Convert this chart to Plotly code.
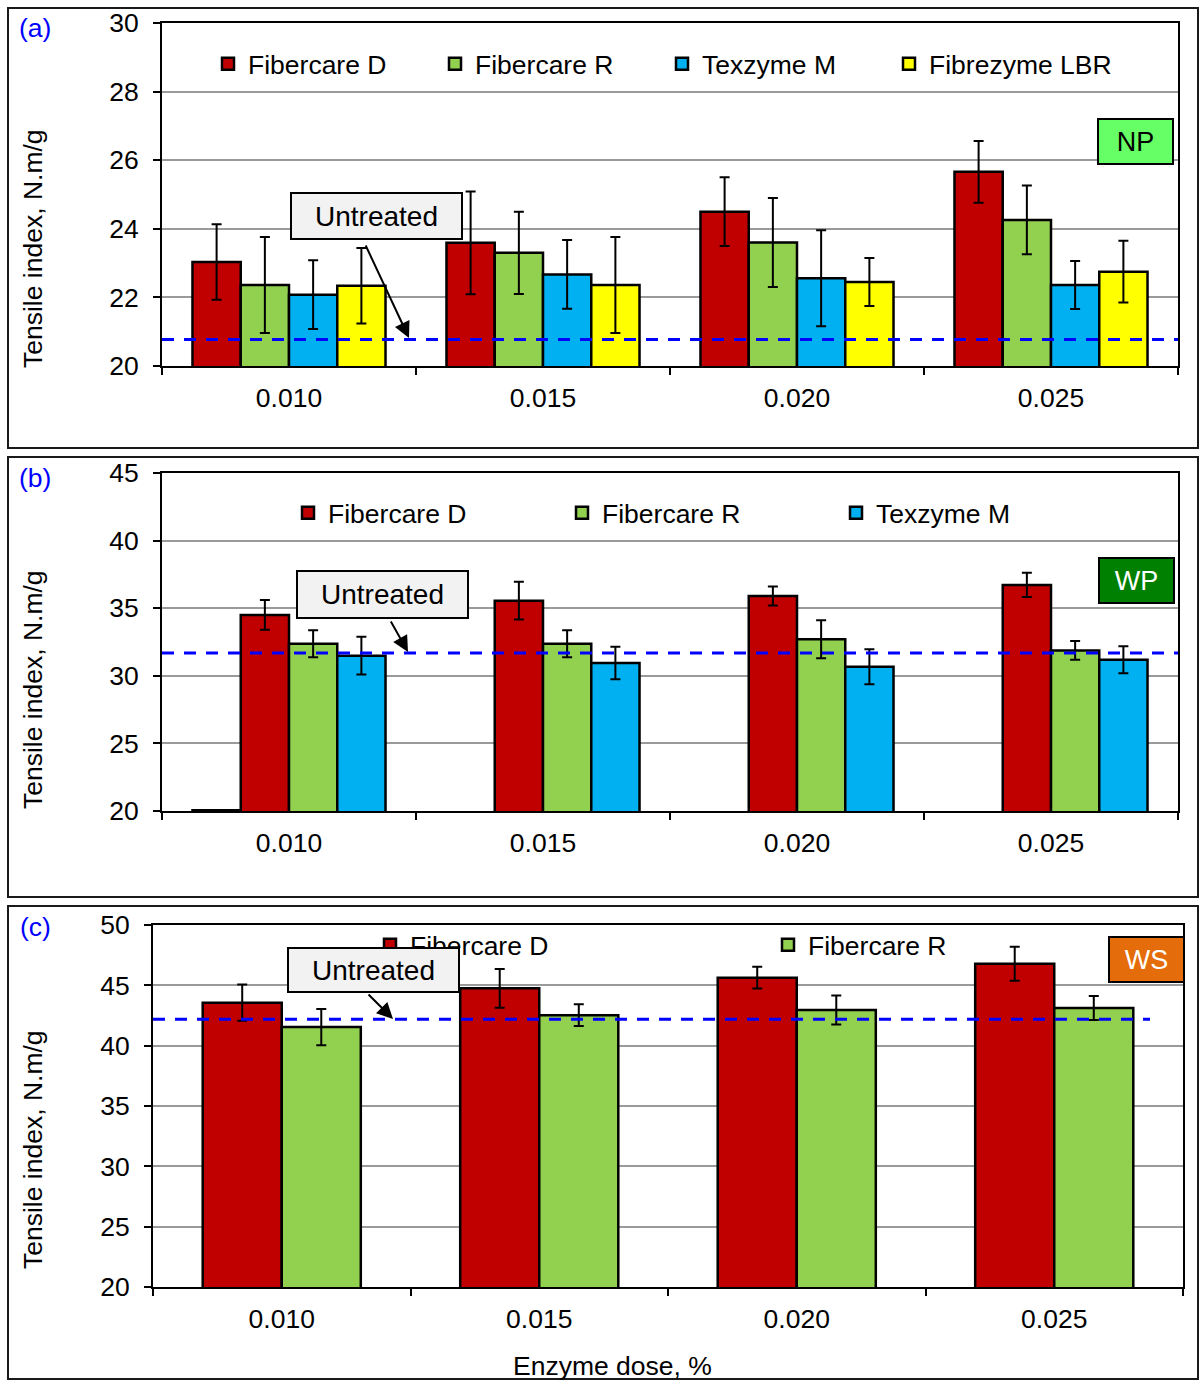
import plotly.graph_objects as go

W, H = 1201, 1380
FONT = "Liberation Sans, Arial, sans-serif"
FS = 26.5

doses = ["0.010", "0.015", "0.020", "0.025"]
series_names = ["Fibercare D", "Fibercare R", "Texzyme M", "Fibrezyme LBR"]
colors = ["#C00000", "#92D050", "#00B0F0", "#FFFF00"]

# Panel (a) NP
np_fd = [23.03, 23.59, 24.50, 25.66]
np_fd_err = [1.10, 1.50, 1.00, 0.90]
np_fr = [22.36, 23.30, 23.60, 24.26]
np_fr_err = [1.40, 1.20, 1.30, 1.00]
np_tm = [22.08, 22.67, 22.56, 22.36]
np_tm_err = [1.00, 1.00, 1.40, 0.70]
np_lbr = [22.34, 22.36, 22.45, 22.75]
np_lbr_err = [1.10, 1.40, 0.70, 0.90]
np_untreated = 20.77

# Panel (b) WP
wp_lbr = [20.05, None, None, None]
wp_fd = [34.50, 35.56, 35.90, 36.72]
wp_fd_err = [1.10, 1.40, 0.70, 0.90]
wp_fr = [32.37, 32.37, 32.70, 31.88]
wp_fr_err = [1.00, 1.00, 1.40, 0.70]
wp_tm = [31.49, 30.95, 30.67, 31.19]
wp_tm_err = [1.40, 1.20, 1.30, 1.00]
wp_untreated = 31.69

# Panel (c) WS
ws_fd = [43.56, 44.75, 45.63, 46.79]
ws_fd_err = [1.50, 1.60, 0.90, 1.40]
ws_fr = [41.54, 42.53, 42.95, 43.12]
ws_fr_err = [1.50, 0.90, 1.20, 1.00]
ws_untreated = 42.18


def px(x):
    return x / W


def py(y):
    return 1 - y / H


fig = go.Figure()


def add_bar(name, vals, errs, color, xa, ya, legend, showlegend=True, **extra):
    kw = dict(extra)
    if errs is not None:
        kw["error_y"] = dict(type="data", array=errs, color="black", thickness=2, width=5)
    fig.add_trace(go.Bar(
        x=doses, y=vals, name=name, marker=dict(color=color, line=dict(color="black", width=2.5)),
        xaxis=xa, yaxis=ya, legend=legend, showlegend=showlegend, **kw))


# (a)
add_bar(series_names[0], np_fd, np_fd_err, colors[0], "x", "y", "legend")
add_bar(series_names[1], np_fr, np_fr_err, colors[1], "x", "y", "legend")
add_bar(series_names[2], np_tm, np_tm_err, colors[2], "x", "y", "legend")
add_bar(series_names[3], np_lbr, np_lbr_err, colors[3], "x", "y", "legend")
# (b)
add_bar(series_names[3], wp_lbr, None, colors[3], "x2", "y2", "legend2", showlegend=False)
add_bar(series_names[0], wp_fd, wp_fd_err, colors[0], "x2", "y2", "legend2")
add_bar(series_names[1], wp_fr, wp_fr_err, colors[1], "x2", "y2", "legend2")
add_bar(series_names[2], wp_tm, wp_tm_err, colors[2], "x2", "y2", "legend2")
# (c) - wider gap between groups, set explicit width/offset
add_bar(series_names[0], ws_fd, ws_fd_err, colors[0], "x3", "y3", "legend3",
        width=0.307, offset=-0.307)
add_bar(series_names[1], ws_fr, ws_fr_err, colors[1], "x3", "y3", "legend3",
        width=0.307, offset=0)

tickfont = dict(family=FONT, size=FS, color="black")


def xax(domain, anchor):
    return dict(domain=domain, anchor=anchor, type="category", tickson="boundaries",
                ticks="outside", ticklen=7, tickwidth=1.5, tickcolor="black",
                showline=True, linecolor="black", linewidth=2, mirror=True,
                showgrid=False, tickfont=tickfont, automargin=False,
                ticklabelstandoff=7, fixedrange=True)


def yax(domain, anchor, rng, dtick):
    return dict(domain=domain, anchor=anchor, range=rng, dtick=dtick,
                ticks="outside", ticklen=7, tickwidth=1.5, tickcolor="black",
                showline=True, linecolor="black", linewidth=2, mirror=True,
                showgrid=True, gridcolor="#9a9a9a", gridwidth=2,
                zeroline=False, tickfont=tickfont, automargin=False,
                ticklabelstandoff=9, fixedrange=True)


xa_dom = [px(162), px(1178)]
xc_dom = [px(153), px(1183)]

legfont = dict(family=FONT, size=FS, color="black")

fig.update_layout(
    width=W, height=H, margin=dict(l=0, r=0, t=0, b=0),
    paper_bgcolor="white", plot_bgcolor="white",
    font=dict(family=FONT, size=FS, color="black"),
    barmode="group", bargap=0.24, bargroupgap=0,
    xaxis=xax(xa_dom, "y"),
    yaxis=yax([py(366), py(23)], "x", [20, 30], 2),
    xaxis2=xax(xa_dom, "y2"),
    yaxis2=yax([py(811), py(473)], "x2", [20, 45], 5),
    xaxis3=xax(xc_dom, "y3"),
    yaxis3=yax([py(1287), py(925)], "x3", [20, 50], 5),
    legend=dict(orientation="h", x=px(208), y=py(64), xanchor="left", yanchor="middle",
                entrywidth=182, entrywidthmode="pixels", font=legfont,
                bgcolor="rgba(0,0,0,0)", traceorder="normal"),
    legend2=dict(orientation="h", x=px(288), y=py(513), xanchor="left", yanchor="middle",
                 entrywidth=229, entrywidthmode="pixels", font=legfont,
                 bgcolor="rgba(0,0,0,0)", traceorder="normal"),
    legend3=dict(orientation="h", x=px(370), y=py(945), xanchor="left", yanchor="middle",
                 entrywidth=353, entrywidthmode="pixels", font=legfont,
                 bgcolor="rgba(0,0,0,0)", traceorder="normal"),
)

# Untreated lines
for ya, val, x1 in [("y", np_untreated, 1), ("y2", wp_untreated, 1), ("y3", ws_untreated, 0.968)]:
    xr = {"y": "x", "y2": "x2", "y3": "x3"}[ya]
    fig.add_shape(type="line", xref=f"{xr} domain", yref=ya, x0=0, x1=x1, y0=val, y1=val,
                  line=dict(color="#0000FF", width=3, dash="12px,10px"), layer="above")

# Outer panel frames
for y0, y1 in [(8, 448), (457, 897), (906, 1379)]:
    fig.add_shape(type="rect", xref="paper", yref="paper", x0=px(8), x1=px(1198),
                  y0=py(y1), y1=py(y0), line=dict(color="#1a1a1a", width=2), layer="above")

ann_font = dict(family=FONT, size=FS, color="black")
C = dict(xref="paper", yref="paper", xanchor="center", yanchor="middle")
# Untreated boxes
for cx, cy, h in [(376.5, 216, 44), (382.5, 594.5, 45), (373.5, 970, 42)]:
    fig.add_annotation(x=px(cx), y=py(cy), text="Untreated",
                       showarrow=False, bgcolor="#F2F2F2", bordercolor="black", borderwidth=2,
                       borderpad=0, width=169, height=h,
                       font=dict(family=FONT, size=28, color="black"), **C)
# Arrows
for hx, hy, ax, ay in [(409, 338, -44, -94), (408, 652, -18, -32), (393, 1019, -26, -26)]:
    fig.add_annotation(x=px(hx), y=py(hy), xref="paper", yref="paper", text="",
                       showarrow=True, ax=ax, ay=ay, arrowhead=2, arrowsize=1.6,
                       arrowwidth=2, arrowcolor="black", standoff=0, startstandoff=0)

# Pulp labels
for txt, cx, cy, bg, fc in [("NP", 1135.5, 141.5, "#66FF66", "black"),
                            ("WP", 1136, 580, "#008000", "white"),
                            ("WS", 1146.5, 959.5, "#E46C0A", "white")]:
    fig.add_annotation(x=px(cx), y=py(cy), text=txt,
                       showarrow=False, bgcolor=bg, bordercolor="black", borderwidth=2,
                       borderpad=0, width=73, height=43,
                       font=dict(family=FONT, size=27, color=fc), **C)

# Panel letters
for txt, cx, cy in [("(a)", 35, 28), ("(b)", 35, 478), ("(c)", 35, 927)]:
    fig.add_annotation(x=px(cx), y=py(cy), text=txt,
                       showarrow=False, font=dict(family=FONT, size=FS, color="#0000FF"), **C)

# Y titles
for cy in [249, 690, 1150]:
    fig.add_annotation(x=px(33), y=py(cy), text="Tensile index, N.m/g", textangle=-90,
                       showarrow=False, font=ann_font, **C)

fig.add_annotation(x=px(612), y=py(1366), text="Enzyme dose, %",
                   showarrow=False, font=ann_font, **C)

fig.write_html("out.html", config={"displayModeBar": False},
               post_script="document.body.style.margin='0';document.body.style.overflow='hidden';")
